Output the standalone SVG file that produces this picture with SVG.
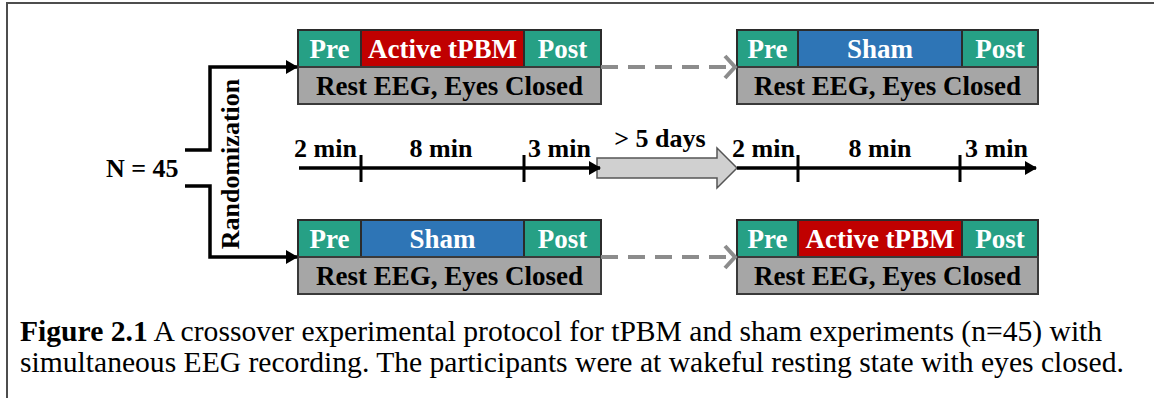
<svg xmlns="http://www.w3.org/2000/svg" width="1154" height="398" viewBox="0 0 1154 398">
  <defs>
    <marker id="tri" viewBox="0 0 12 14" refX="11" refY="7" markerWidth="12" markerHeight="14" markerUnits="userSpaceOnUse" orient="auto">
      <path d="M0,0 L12,7 L0,14 Z" fill="#000"/>
    </marker>
    <marker id="chev" viewBox="0 0 14 26" refX="12" refY="13" markerWidth="14" markerHeight="26" markerUnits="userSpaceOnUse" orient="auto">
      <path d="M2,2 L12,13 L2,24" fill="none" stroke="#8c8c8c" stroke-width="4"/>
    </marker>
  </defs>
  <style>
    .lbl { font-family: "Liberation Serif", "Times New Roman", serif; font-weight: bold; font-size: 27px; text-anchor: middle; }
    .wt { fill: #ffffff; }
    .bk { fill: #000000; }
    .tl { font-family: "Liberation Serif", "Times New Roman", serif; font-weight: bold; font-size: 26px; fill: #000; }
    .cap { font-family: "Liberation Serif", "Times New Roman", serif; font-size: 29.6px; fill: #000; }
    .teal { fill: #26a085; stroke: #2b2b2b; stroke-width: 2; }
    .red { fill: #c00000; stroke: #2b2b2b; stroke-width: 2; }
    .blue { fill: #2e75b6; stroke: #2b2b2b; stroke-width: 2; }
    .grey { fill: #a6a6a6; stroke: #3a3a3a; stroke-width: 2; }
    .line { fill: none; stroke: #000; stroke-width: 3.5; }
    .dash { fill: none; stroke: #8c8c8c; stroke-width: 4; stroke-dasharray: 17 10; }
    .tick { stroke: #000; stroke-width: 3; }
  </style>

  <!-- page frame -->
  <path d="M7,398 L7,3 L1154,3" fill="none" stroke="#4d4d4d" stroke-width="2"/>

  <!-- N = 45 -->
  <g id="n45">
    <text class="tl" x="106" y="177">N = 45</text>
  </g>

  <!-- randomization label -->
  <g id="randomization">
    <text class="tl" x="0" y="0" text-anchor="middle" transform="translate(239,164) rotate(-90)">Randomization</text>
  </g>

  <!-- session 1, group A -->
  <g id="s1a">
    <rect class="teal" x="298" y="30" width="63" height="37"/>
    <rect class="red" x="361" y="30" width="163" height="37"/>
    <rect class="teal" x="524" y="30" width="77" height="37"/>
    <rect class="grey" x="298" y="67" width="303" height="37"/>
    <text class="lbl wt" x="329.5" y="57.5">Pre</text>
    <text class="lbl wt" x="442.5" y="57.5">Active tPBM</text>
    <text class="lbl wt" x="562.5" y="57.5">Post</text>
    <text class="lbl bk" x="449.5" y="94.5">Rest EEG, Eyes Closed</text>
  </g>

  <!-- session 2, group A -->
  <g id="s2a">
    <rect class="teal" x="737" y="30" width="61" height="37"/>
    <rect class="blue" x="798" y="30" width="164" height="37"/>
    <rect class="teal" x="962" y="30" width="76" height="37"/>
    <rect class="grey" x="737" y="67" width="301" height="37"/>
    <text class="lbl wt" x="767.5" y="57.5">Pre</text>
    <text class="lbl wt" x="880" y="57.5">Sham</text>
    <text class="lbl wt" x="1000" y="57.5">Post</text>
    <text class="lbl bk" x="887.5" y="94.5">Rest EEG, Eyes Closed</text>
  </g>

  <!-- session 1, group B -->
  <g id="s1b">
    <rect class="teal" x="298" y="220" width="63" height="37"/>
    <rect class="blue" x="361" y="220" width="163" height="37"/>
    <rect class="teal" x="524" y="220" width="77" height="37"/>
    <rect class="grey" x="298" y="257" width="303" height="37"/>
    <text class="lbl wt" x="329.5" y="247.5">Pre</text>
    <text class="lbl wt" x="442.5" y="247.5">Sham</text>
    <text class="lbl wt" x="562.5" y="247.5">Post</text>
    <text class="lbl bk" x="449.5" y="284.5">Rest EEG, Eyes Closed</text>
  </g>

  <!-- session 2, group B -->
  <g id="s2b">
    <rect class="teal" x="737" y="220" width="61" height="37"/>
    <rect class="red" x="798" y="220" width="164" height="37"/>
    <rect class="teal" x="962" y="220" width="76" height="37"/>
    <rect class="grey" x="737" y="257" width="301" height="37"/>
    <text class="lbl wt" x="767.5" y="247.5">Pre</text>
    <text class="lbl wt" x="880" y="247.5">Active tPBM</text>
    <text class="lbl wt" x="1000" y="247.5">Post</text>
    <text class="lbl bk" x="887.5" y="284.5">Rest EEG, Eyes Closed</text>
  </g>

  <!-- washout arrow -->
  <g id="washout">
    <path d="M597,158 L717,158 L717,148 L737,168 L717,188 L717,178 L597,178 Z" fill="#d0d0d0" stroke="#555" stroke-width="1.5"/>
    <text class="tl" x="660" y="147" text-anchor="middle">&gt; 5 days</text>
  </g>

  <!-- timelines -->
  <g id="timeline1">
    <text class="tl" x="294" y="157">2 min</text>
    <text class="tl" x="441" y="157" text-anchor="middle">8 min</text>
    <text class="tl" x="528" y="157">3 min</text>
  </g>
  <g id="timeline2">
    <text class="tl" x="732" y="157">2 min</text>
    <text class="tl" x="880" y="157" text-anchor="middle">8 min</text>
    <text class="tl" x="965" y="157">3 min</text>
  </g>

  <!-- connectors -->
  <g id="connectors">
    <path class="line" d="M185,150 L210,150 L210,67 L297,67" marker-end="url(#tri)"/>
    <path class="line" d="M185,186 L210,186 L210,257 L297,257" marker-end="url(#tri)"/>
    <path class="dash" d="M601,67 L735,67" marker-end="url(#chev)"/>
    <path class="dash" d="M601,257 L735,257" marker-end="url(#chev)"/>
    <path class="line" d="M299,168 L600,168" marker-end="url(#tri)"/>
    <path class="line" d="M737,168 L1036,168" marker-end="url(#tri)"/>
    <line class="tick" x1="361" y1="155" x2="361" y2="182"/>
    <line class="tick" x1="524" y1="155" x2="524" y2="182"/>
    <line class="tick" x1="798" y1="155" x2="798" y2="182"/>
    <line class="tick" x1="960" y1="155" x2="960" y2="182"/>
  </g>

  <!-- caption -->
  <g id="caption">
    <text class="cap" x="20" y="341"><tspan font-weight="bold">Figure 2.1</tspan> A crossover experimental protocol for tPBM and sham experiments (n=45) with</text>
    <text class="cap" x="20" y="372">simultaneous EEG recording. The participants were at wakeful resting state with eyes closed.</text>
  </g>
</svg>
